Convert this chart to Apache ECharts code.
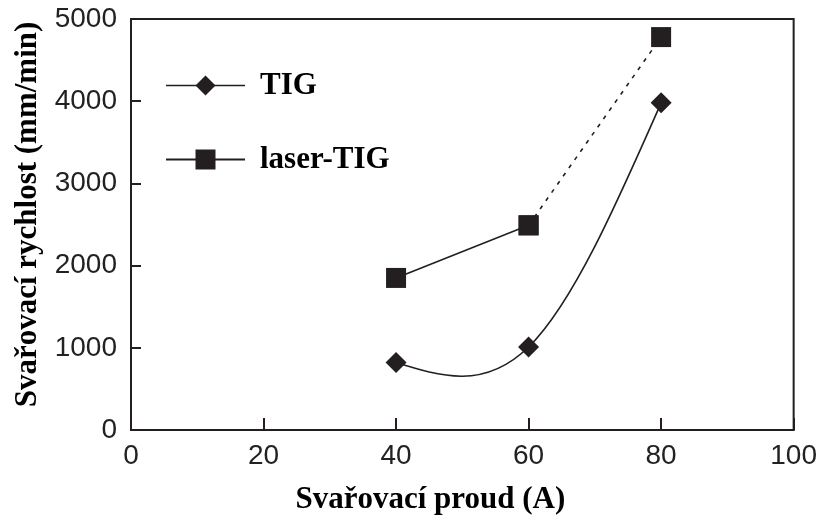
<!DOCTYPE html>
<html>
<head>
<meta charset="utf-8">
<script src="https://cdn.jsdelivr.net/npm/echarts@6/dist/echarts.min.js"></script>
<style>html,body{margin:0;padding:0;background:#fff}#c{width:820px;height:520px}</style>
</head>
<body>
<div id="c"></div>
<script>
var currents = [40, 60, 80];
var tigSpeed = [820, 1010, 3980];
var laserSpeed = [1850, 2490, 4780];
var xTicks = [0, 20, 40, 60, 80, 100];
var yTicks = [0, 1000, 2000, 3000, 4000, 5000];

function pairs(xs, ys) { return xs.map(function (x, i) { return [x, ys[i]]; }); }
var tigData = pairs(currents, tigSpeed);
var laserData = pairs(currents, laserSpeed);

// Natural cubic spline through the TIG points, expressed as cubic Bezier segments
function splineSegments(xs, ys) {
  var n = xs.length, h = [], i;
  for (i = 0; i < n - 1; i++) h.push(xs[i + 1] - xs[i]);
  var M = new Array(n).fill(0);
  if (n > 2) {
    var a = [], b = [], c = [], d = [];
    for (i = 1; i < n - 1; i++) {
      a.push(h[i - 1]); b.push(2 * (h[i - 1] + h[i])); c.push(h[i]);
      d.push(6 * ((ys[i + 1] - ys[i]) / h[i] - (ys[i] - ys[i - 1]) / h[i - 1]));
    }
    var m = b.length;
    for (i = 1; i < m; i++) { var w = a[i] / b[i - 1]; b[i] -= w * c[i - 1]; d[i] -= w * d[i - 1]; }
    var sol = new Array(m);
    sol[m - 1] = d[m - 1] / b[m - 1];
    for (i = m - 2; i >= 0; i--) sol[i] = (d[i] - c[i] * sol[i + 1]) / b[i];
    for (i = 0; i < m; i++) M[i + 1] = sol[i];
  }
  var segs = [];
  for (i = 0; i < n - 1; i++) {
    var hi = h[i];
    var s = (ys[i + 1] - ys[i]) / hi;
    var d0 = s - hi * (2 * M[i] + M[i + 1]) / 6;
    var d1 = s + hi * (M[i] + 2 * M[i + 1]) / 6;
    segs.push([
      [xs[i], ys[i]],
      [xs[i] + hi / 3, ys[i] + d0 * hi / 3],
      [xs[i + 1] - hi / 3, ys[i + 1] - d1 * hi / 3],
      [xs[i + 1], ys[i + 1]]
    ]);
  }
  return segs;
}
var tigSegs = splineSegments(currents, tigSpeed);

var ink = '#231f20';
var serif = '"Liberation Serif", "Times New Roman", serif';
var sans = '"Liberation Sans", Arial, sans-serif';

var chart = echarts.init(document.getElementById('c'), null, {renderer: 'canvas'});
chart.setOption({
  animation: false,
  backgroundColor: '#fff',
  grid: {left: 131, right: 23, top: 19, bottom: 90, show: true, borderColor: ink, borderWidth: 2},
  legend: {
    orient: 'vertical', left: 165, top: 70, padding: 0,
    itemWidth: 79, itemHeight: 25, itemGap: 43,
    data: [
      {name: 'TIG', lineStyle: {color: ink, width: 1.6, opacity: 1}},
      {name: 'laser-TIG'}
    ],
    textStyle: {fontFamily: serif, fontWeight: 'bold', fontSize: 31, color: '#000', padding: [0, 0, 0, 10], lineHeight: 25},
    selectedMode: false
  },
  xAxis: {
    type: 'value', min: xTicks[0], max: xTicks[xTicks.length - 1], interval: 20,
    name: 'Svařovací proud (A)', nameLocation: 'middle', nameGap: 54,
    nameTextStyle: {fontFamily: serif, fontWeight: 'bold', fontSize: 31, color: '#000', padding: [0, 64, 0, 0]},
    axisLine: {lineStyle: {color: ink, width: 2}},
    axisTick: {inside: true, length: 12, lineStyle: {color: ink, width: 2}},
    axisLabel: {fontFamily: sans, fontSize: 28, color: '#222', margin: 12},
    splitLine: {show: false}
  },
  yAxis: {
    type: 'value', min: yTicks[0], max: yTicks[yTicks.length - 1], interval: 1000,
    name: 'Svařovací rychlost (mm/min)', nameLocation: 'middle', nameGap: 86,
    nameTextStyle: {fontFamily: serif, fontWeight: 'bold', fontSize: 31, color: '#000', padding: [0, 0, 0, 20]},
    axisLine: {lineStyle: {color: ink, width: 2}},
    axisTick: {inside: true, length: 10, lineStyle: {color: ink, width: 2}},
    axisLabel: {fontFamily: sans, fontSize: 28, color: '#222', margin: 14, formatter: function (v) { return String(v); }},
    splitLine: {show: false}
  },
  series: [
    {
      name: 'TIG-curve', type: 'custom', data: [0], z: 1, silent: true,
      renderItem: function (params, api) {
        var children = tigSegs.map(function (seg) {
          var p = seg.map(function (pt) { return api.coord(pt); });
          return {
            type: 'bezierCurve',
            shape: {x1: p[0][0], y1: p[0][1], cpx1: p[1][0], cpy1: p[1][1], cpx2: p[2][0], cpy2: p[2][1], x2: p[3][0], y2: p[3][1]},
            style: {stroke: ink, lineWidth: 1.6, fill: null}
          };
        });
        return {type: 'group', children: children};
      }
    },
    {
      name: 'TIG', type: 'line', data: tigData,
      symbol: 'diamond', symbolSize: 21, z: 3,
      itemStyle: {color: ink},
      lineStyle: {color: ink, width: 1.6, opacity: 0}
    },
    {
      name: 'laser-TIG', type: 'line', data: laserData.slice(0, 2),
      symbol: 'rect', symbolSize: 20, z: 3,
      itemStyle: {color: ink},
      lineStyle: {color: ink, width: 1.6}
    },
    {
      name: 'laser-TIG-dashed', type: 'line', data: laserData.slice(1),
      symbol: 'rect', symbolSize: 20, z: 2,
      itemStyle: {color: ink},
      lineStyle: {color: ink, width: 1.6, type: [4, 6]}
    }
  ]
});
</script>
</body>
</html>
